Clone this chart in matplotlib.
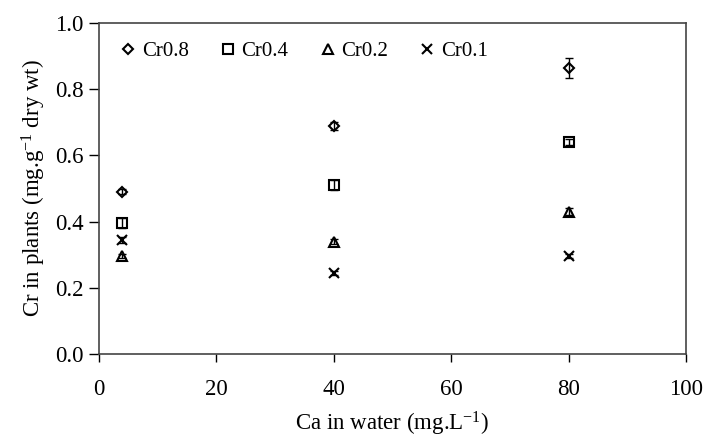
import matplotlib
matplotlib.use("Agg")
import matplotlib.pyplot as plt

plt.rcParams['font.family'] = ['Liberation Serif', 'DejaVu Serif']
plt.rcParams['mathtext.fontset'] = 'custom'
plt.rcParams['mathtext.rm'] = 'Liberation Serif'
plt.rcParams['mathtext.it'] = 'Liberation Serif:italic'

ca = [4, 40, 80]
series = ["Cr0.8", "Cr0.4", "Cr0.2", "Cr0.1"]
cr08 = [0.49, 0.69, 0.865]
cr04 = [0.395, 0.51, 0.64]
cr02 = [0.295, 0.34, 0.43]
cr01 = [0.345, 0.245, 0.295]
err08 = [0.008, 0.012, 0.03]
err04 = [0.015, 0.015, 0.01]
err02 = [0.006, 0.008, 0.01]
err01 = [0.008, 0.005, 0.006]

values = [cr08, cr04, cr02, cr01]
errors = [err08, err04, err02, err01]
markers = ['D', 's', '^', 'x']
sizes = [5.5, 6.5, 6.5, 7]

fig = plt.figure(figsize=(7.04, 4.41), dpi=100)
ax = fig.add_axes([0.1406, 0.197, 0.834, 0.751])

for name, v, e, m, s in zip(series, values, errors, markers, sizes):
    ax.plot(ca, v, linestyle='none', marker=m, ms=s, mfc='white',
            mec='black', mew=1.5, label=name, zorder=2)
    ax.errorbar(ca, v, yerr=e, fmt='none', ecolor='black', elinewidth=1,
                capsize=3, capthick=1, zorder=3)

ax.set_xlim(0, 100)
ax.set_ylim(0, 1.0)
ax.set_xticks([0, 20, 40, 60, 80, 100])
ax.set_yticks([0.0, 0.2, 0.4, 0.6, 0.8, 1.0])
ax.set_yticklabels(['0.0', '0.2', '0.4', '0.6', '0.8', '1.0'])
ax.tick_params(axis='both', labelsize=16.5, direction='out', width=1,
               colors='black')
ax.tick_params(axis='y', length=7, pad=4)
ax.tick_params(axis='x', length=6, pad=12)
for sp in ax.spines.values():
    sp.set_linewidth(1.2)
    sp.set_color('#444444')

ax.set_xlabel(r'Ca in water (mg.L$^{-1}$)', fontsize=16.5, labelpad=7)
ax.set_ylabel(r'Cr in plants (mg.g$^{-1}$ dry wt)', fontsize=16.5, labelpad=5)

leg = ax.legend(loc='center left', ncol=4, frameon=False, fontsize=15,
                handletextpad=0.15, columnspacing=1.38, handlelength=1.0,
                bbox_to_anchor=(0.018, 0.915), borderaxespad=0.0)

fig.savefig('out.png', dpi=100)
